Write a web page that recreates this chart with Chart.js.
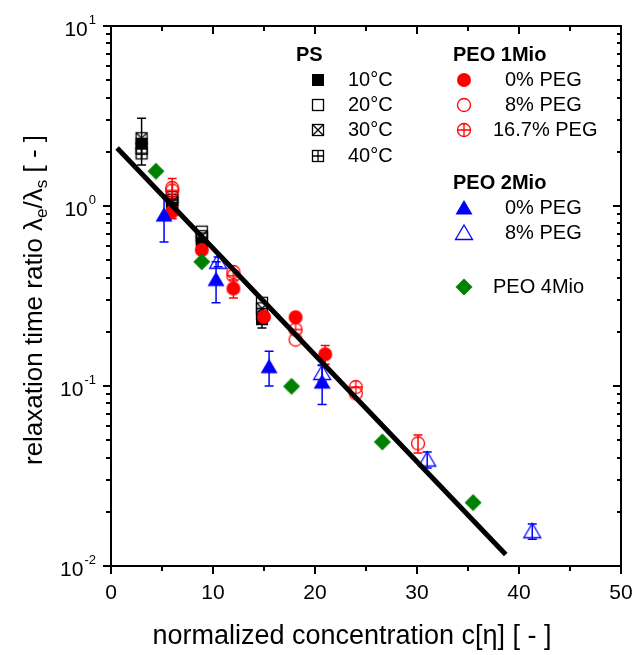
<!DOCTYPE html>
<html>
<head>
<meta charset="utf-8">
<script src="https://cdn.jsdelivr.net/npm/chart.js@4.4.0/dist/chart.umd.min.js"></script>
<style>
  body { margin: 0; background: #fff; }
  #wrap { width: 638px; height: 655px; }
</style>
</head>
<body>
<div id="wrap"><canvas id="chart" width="638" height="655"></canvas></div>
<script>
// PS at four temperatures
const psX = [3.0, 6.0, 8.9, 14.8];
const ps10 = [2.22, 0.98, 0.62, 0.235];
const ps10Err = [null, null, null, 0.025];
const ps20 = [2.08, 1.12, 0.72, 0.29];
const ps30 = [2.38, 1.05, 0.68, 0.27];
const ps30Err = [0.69, null, null, null];
const ps40 = [1.96, 1.08, 0.66, 0.25];

// PEO 1Mio
const peo1x0 = [6.0, 8.9, 12.0, 15.0, 18.1, 21.0];
const peo1y0 = [0.93, 0.57, 0.348, 0.242, 0.241, 0.15];
const peo1e0 = [0.08, null, 0.04, null, null, 0.018];
const peo1x8 = [6.0, 12.0, 18.1, 24.0, 30.1];
const peo1y8 = [1.26, 0.43, 0.181, 0.091, 0.048];
const peo1e8 = [0.16, null, null, null, 0.0055];
const peo1x16 = [6.0, 12.0, 18.1, 24.0];
const peo1y16 = [1.22, 0.41, 0.206, 0.0986];

// PEO 2Mio
const peo2x0 = [5.2, 10.3, 15.5, 20.7];
const peo2y0 = [0.89, 0.39, 0.128, 0.105];
const peo2e0 = [0.26, 0.1, 0.028, 0.026];
const peo2x8 = [10.5, 20.7, 31.0, 41.3];
const peo2y8 = [0.49, 0.118, 0.039, 0.0156];
const peo2e8 = [0.03, 0.012, 0.004, 0.0015];

// PEO 4Mio
const peo4x = [4.4, 8.9, 17.7, 26.6, 35.5];
const peo4y = [1.56, 0.49, 0.0996, 0.0489, 0.0225];

// fit line
const fitX = [0.6, 38.7];
const fitY = [2.1, 0.0116];

const xTicks = [0, 10, 20, 30, 40, 50];
const yTicks = [0.01, 0.1, 1, 10];
const yTickExp = ["-2", "-1", "0", "1"];

const RED = "#ff0000", BLUE = "#0000ff", GREEN = "#008000", BLACK = "#000000";
const FONT = "'Liberation Sans', Arial, sans-serif";

// marker images, same ones used in the legend
function makeMarker(kind, color) {
    const c = document.createElement("canvas");
    c.width = 22; c.height = 22;
    const g = c.getContext("2d");
    const m = 11;
    g.strokeStyle = color;
    g.fillStyle = color;
    g.lineWidth = 1.3;
    g.beginPath();
    switch (kind) {
        case "sqFill":
            g.fillRect(m - 6, m - 6, 12, 12);
            break;
        case "sqOpen":
            g.strokeRect(m - 5.5, m - 5.5, 11, 11);
            break;
        case "sqX":
            g.strokeRect(m - 5.5, m - 5.5, 11, 11);
            g.moveTo(m - 5.5, m - 5.5); g.lineTo(m + 5.5, m + 5.5);
            g.moveTo(m + 5.5, m - 5.5); g.lineTo(m - 5.5, m + 5.5);
            g.stroke();
            break;
        case "sqPlus":
            g.strokeRect(m - 5.5, m - 5.5, 11, 11);
            g.moveTo(m, m - 5.5); g.lineTo(m, m + 5.5);
            g.moveTo(m - 5.5, m); g.lineTo(m + 5.5, m);
            g.stroke();
            break;
        case "cirFill":
            g.arc(m, m, 7, 0, Math.PI * 2);
            g.fill();
            break;
        case "cirOpen":
            g.arc(m, m, 6.5, 0, Math.PI * 2);
            g.stroke();
            break;
        case "cirPlus":
            g.arc(m, m, 6.5, 0, Math.PI * 2);
            g.moveTo(m, m - 6.5); g.lineTo(m, m + 6.5);
            g.moveTo(m - 6.5, m); g.lineTo(m + 6.5, m);
            g.stroke();
            break;
        case "triFill":
        case "triOpen":
            g.moveTo(m, m - 8);
            g.lineTo(m + 8.5, m + 6.5);
            g.lineTo(m - 8.5, m + 6.5);
            g.closePath();
            if (kind === "triFill") g.fill(); else g.stroke();
            break;
        case "diamond":
            g.moveTo(m, m - 8.5);
            g.lineTo(m + 8.5, m);
            g.lineTo(m, m + 8.5);
            g.lineTo(m - 8.5, m);
            g.closePath();
            g.fill();
            break;
    }
    return c;
}

const mk = {
    ps10: makeMarker("sqFill", BLACK),
    ps20: makeMarker("sqOpen", BLACK),
    ps30: makeMarker("sqX", BLACK),
    ps40: makeMarker("sqPlus", BLACK),
    p1a: makeMarker("cirFill", RED),
    p1b: makeMarker("cirOpen", RED),
    p1c: makeMarker("cirPlus", RED),
    p2a: makeMarker("triFill", BLUE),
    p2b: makeMarker("triOpen", BLUE),
    p4: makeMarker("diamond", GREEN)
};

function series(label, xs, ys, errs, marker, color) {
    return {
        type: "scatter",
        label: label,
        data: xs.map((x, i) => ({ x: x, y: ys[i] })),
        errs: errs,
        errColor: color,
        pointStyle: marker,
        pointRadius: 9,
        showLine: false
    };
}

// vertical error bars under the markers
const errorBars = {
    id: "errorBars",
    beforeDatasetsDraw(chart) {
        const ctx = chart.ctx;
        const sx = chart.scales.x, sy = chart.scales.y;
        ctx.save();
        chart.data.datasets.forEach(d => {
            if (!d.errs) return;
            d.data.forEach((p, i) => {
                const e = d.errs[i];
                if (!e) return;
                const px = sx.getPixelForValue(p.x);
                const top = sy.getPixelForValue(p.y + e);
                const bot = sy.getPixelForValue(p.y - e);
                ctx.strokeStyle = d.errColor;
                ctx.lineWidth = 1.5;
                ctx.beginPath();
                ctx.moveTo(px, top); ctx.lineTo(px, bot);
                ctx.moveTo(px - 4.5, top); ctx.lineTo(px + 4.5, top);
                ctx.moveTo(px - 4.5, bot); ctx.lineTo(px + 4.5, bot);
                ctx.stroke();
            });
        });
        ctx.restore();
    }
};

// frame, ticks, labels, titles and legend
const frame = {
    id: "frame",
    afterDraw(chart) {
        const ctx = chart.ctx;
        const a = chart.chartArea;
        const sx = chart.scales.x, sy = chart.scales.y;
        ctx.save();
        ctx.strokeStyle = BLACK;
        ctx.lineWidth = 2;
        ctx.strokeRect(a.left, a.top, a.right - a.left, a.bottom - a.top);

        ctx.beginPath();
        for (let v = 0; v <= 50; v += 5) {
            const px = Math.round(sx.getPixelForValue(v));
            const major = v % 10 === 0;
            ctx.moveTo(px, a.bottom); ctx.lineTo(px, a.bottom + (major ? 8 : 5));
            ctx.moveTo(px, a.top); ctx.lineTo(px, a.top + (major ? 8 : 5));
        }
        for (let d = -2; d <= 1; d++) {
            for (let k = 1; k <= 9; k++) {
                if (d === 1 && k > 1) break;
                const py = Math.round(sy.getPixelForValue(k * Math.pow(10, d)));
                const len = k === 1 ? 8 : 5;
                ctx.moveTo(a.left, py); ctx.lineTo(a.left - len, py);
                ctx.moveTo(a.right, py); ctx.lineTo(a.right - (k === 1 ? 8 : 4), py);
            }
        }
        ctx.stroke();

        ctx.fillStyle = BLACK;
        ctx.font = "21px " + FONT;
        ctx.textAlign = "center";
        ctx.textBaseline = "middle";
        xTicks.forEach(v => {
            ctx.fillText(String(v), sx.getPixelForValue(v), a.bottom + 27);
        });

        yTicks.forEach((v, i) => {
            const py = sy.getPixelForValue(v);
            ctx.font = "13px " + FONT;
            const wSup = ctx.measureText(yTickExp[i]).width;
            ctx.textAlign = "right";
            ctx.textBaseline = "alphabetic";
            ctx.fillText(yTickExp[i], 96, py - 2);
            ctx.font = "21px " + FONT;
            ctx.fillText("10", 96 - wSup - 1, py + 10);
        });

        // x title
        ctx.font = "27px " + FONT;
        ctx.textAlign = "center";
        ctx.textBaseline = "middle";
        ctx.fillText("normalized concentration c[\u03b7] [ - ]", 352, 637);

        // y title with subscripts
        const parts = [
            ["relaxation time ratio \u03bb", false],
            ["e", true],
            ["/\u03bb", false],
            ["s", true],
            [" [ - ]", false]
        ];
        const big = "26px " + FONT, small = "17px " + FONT;
        let total = 0;
        parts.forEach(p => { ctx.font = p[1] ? small : big; total += ctx.measureText(p[0]).width; });
        ctx.translate(42, 300);
        ctx.rotate(-Math.PI / 2);
        ctx.textAlign = "left";
        ctx.textBaseline = "alphabetic";
        let cx = -total / 2;
        parts.forEach(p => {
            ctx.font = p[1] ? small : big;
            ctx.fillText(p[0], cx, p[1] ? 5 : 0);
            cx += ctx.measureText(p[0]).width;
        });
        ctx.setTransform(1, 0, 0, 1, 0, 0);

        // legend
        ctx.textBaseline = "middle";
        ctx.textAlign = "left";
        const put = (img, x, y) => ctx.drawImage(img, x - 11, y - 11);
        ctx.font = "bold 20px " + FONT;
        ctx.fillText("PS", 296, 55);
        ctx.fillText("PEO 1Mio", 453, 55);
        ctx.fillText("PEO 2Mio", 453, 183);
        ctx.font = "20px " + FONT;
        [["ps10", "10\u00b0C", 80], ["ps20", "20\u00b0C", 105], ["ps30", "30\u00b0C", 130], ["ps40", "40\u00b0C", 156]]
            .forEach(r => { put(mk[r[0]], 318, r[2]); ctx.fillText(r[1], 348, r[2]); });
        [["p1a", "0% PEG", 80, 505], ["p1b", "8% PEG", 105, 505], ["p1c", "16.7% PEG", 130, 493],
         ["p2a", "0% PEG", 208, 505], ["p2b", "8% PEG", 233, 505], ["p4", "PEO 4Mio", 287, 493]]
            .forEach(r => { put(mk[r[0]], 464, r[2]); ctx.fillText(r[1], r[3], r[2]); });
        ctx.restore();
    }
};

new Chart(document.getElementById("chart"), {
    type: "scatter",
    data: {
        datasets: [
            {
                type: "line",
                label: "fit",
                data: fitX.map((x, i) => ({ x: x, y: fitY[i] })),
                borderColor: BLACK,
                borderWidth: 5,
                pointRadius: 0,
                fill: false,
                order: -1
            },
            series("PEO 4Mio", peo4x, peo4y, null, mk.p4, GREEN),
            series("PEO 2Mio 8% PEG", peo2x8, peo2y8, peo2e8, mk.p2b, BLUE),
            series("PEO 2Mio 0% PEG", peo2x0, peo2y0, peo2e0, mk.p2a, BLUE),
            series("PEO 1Mio 16.7% PEG", peo1x16, peo1y16, null, mk.p1c, RED),
            series("PEO 1Mio 8% PEG", peo1x8, peo1y8, peo1e8, mk.p1b, RED),
            series("PEO 1Mio 0% PEG", peo1x0, peo1y0, peo1e0, mk.p1a, RED),
            series("PS 40°C", psX, ps40, null, mk.ps40, BLACK),
            series("PS 30°C", psX, ps30, ps30Err, mk.ps30, BLACK),
            series("PS 20°C", psX, ps20, null, mk.ps20, BLACK),
            series("PS 10°C", psX, ps10, ps10Err, mk.ps10, BLACK)
        ]
    },
    options: {
        responsive: false,
        animation: false,
        layout: { padding: { left: 111, right: 17, top: 26, bottom: 89 } },
        plugins: { legend: { display: false }, tooltip: { enabled: false } },
        scales: {
            x: { type: "linear", min: 0, max: 50, display: false },
            y: { type: "logarithmic", min: 0.01, max: 10, display: false }
        }
    },
    plugins: [errorBars, frame]
});
</script>
</body>
</html>
